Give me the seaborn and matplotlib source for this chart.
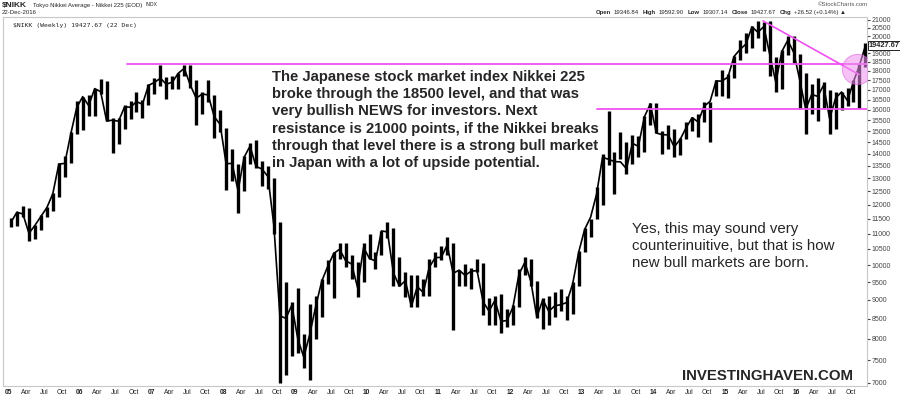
import numpy as np
import matplotlib
matplotlib.use("Agg")
import matplotlib.pyplot as plt
import seaborn as sns
import pandas as pd

# monthly Nikkei 225 ranges (2005 - Dec 2016)
years = list(range(2005, 2017))

high = [
    11520, 11740, 11975, 11900, 11300, 11620, 11935, 12450, 13617, 13930, 14970, 16445,  # 2005
    16650, 16750, 17060, 17563, 17470, 15600, 15600, 16250, 16420, 16900, 16480, 17300,  # 2006
    17600, 18300, 17660, 17750, 17880, 18300, 18297, 17500, 16900, 17490, 16750, 16000,  # 2007
    15160, 14200, 13600, 13900, 14450, 14600, 13700, 13500, 13000, 11400, 9500, 8950,    # 2008
    9330, 8110, 8900, 9100, 9600, 10170, 10400, 10700, 10700, 10300, 10100, 10700,       # 2009
    10980, 10400, 11100, 11400, 11200, 10250, 9800, 9700, 9700, 9600, 10200, 10400,      # 2010
    10600, 10890, 10700, 9850, 10020, 9900, 10200, 10050, 9050, 9100, 9150, 8750,        # 2011
    8850, 9870, 10255, 10190, 9520, 9050, 9100, 9220, 9290, 9100, 9500, 10430,           # 2012
    11200, 11500, 12650, 14000, 15942, 14100, 14950, 14500, 14820, 14800, 15700, 16320,  # 2013
    16320, 15000, 15300, 15100, 14700, 15400, 15650, 15800, 16380, 16400, 17520, 18030,  # 2014
    17850, 18830, 19780, 20200, 20600, 20952, 20850, 20946, 18800, 19200, 20012, 20000,  # 2015
    18950, 17900, 17290, 17600, 17400, 17000, 16900, 16900, 17100, 17500, 18400, 19592,  # 2016
]
low = [
    11238, 11260, 11562, 10770, 10825, 11130, 11560, 11790, 12300, 13070, 13630, 14880,
    15060, 15700, 15680, 16780, 15470, 14045, 14440, 15100, 15550, 15900, 15615, 16250,
    16800, 17200, 16530, 17030, 17030, 17700, 17100, 15262, 15800, 16400, 14670, 14980,
    12570, 12900, 11690, 12500, 13600, 13400, 12700, 12600, 11000, 6994, 7160, 7600,
    7660, 7330, 7055, 8000, 8550, 9440, 9050, 10200, 9950, 9600, 9076, 9500,
    10200, 9870, 10300, 10850, 9400, 9380, 9090, 8800, 8800, 9100, 9100, 9950,
    10150, 10300, 8227, 9400, 9400, 9300, 9800, 8600, 8350, 8350, 8135, 8300,
    8350, 8800, 9700, 9400, 8520, 8238, 8330, 8550, 8700, 8480, 8620, 9400,
    10400, 10900, 11500, 12000, 13550, 12415, 13800, 13190, 13600, 13850, 14100, 15300,
    14900, 13995, 14200, 13885, 13960, 14650, 15000, 14750, 15400, 14530, 16700, 16670,
    16590, 17600, 18600, 19000, 19300, 19900, 19115, 17714, 16901, 17050, 18900, 18410,
    16017, 14865, 15800, 15470, 16100, 14864, 15100, 16000, 16200, 16400, 16111, 18200,
]
close = [
    11388, 11740, 11668, 11009, 11277, 11584, 11899, 12413, 13574, 13606, 14872, 16111,
    16650, 16205, 17060, 16906, 15467, 15505, 15457, 16140, 16128, 16399, 16274, 17226,
    17383, 17604, 17288, 17400, 17875, 18138, 17248, 16569, 16786, 16737, 15680, 15308,
    13592, 13603, 12525, 13849, 14338, 13481, 13376, 13072, 11259, 8576, 8512, 8859,
    7994, 7568, 8109, 8828, 9522, 9958, 10356, 10492, 10133, 10034, 9345, 10546,
    10198, 10126, 11089, 11057, 9768, 9382, 9537, 8824, 9369, 9202, 9937, 10228,
    10237, 10624, 9755, 9849, 9693, 9816, 9833, 8955, 8700, 8988, 8434, 8455,
    8802, 9723, 10083, 9520, 8542, 9006, 8695, 8839, 8870, 8928, 9446, 10395,
    11138, 11559, 12397, 13860, 13774, 13677, 13668, 13388, 14455, 14327, 15662, 16291,
    14914, 14841, 14828, 14304, 14632, 15162, 15621, 15425, 16174, 16414, 17460, 17451,
    17674, 18798, 19207, 19520, 20563, 20236, 20585, 18890, 17388, 19083, 19747, 19034,
    17518, 16027, 16759, 16666, 17235, 15576, 16569, 16887, 16450, 17425, 18308, 19427.67,
]

resistance_hi = 18400
support_lo = 16050
trend_start = (2015.53, 20940)
trend_end = (2016.87, 17800)
circle_at = (2016.84, 18100)

y_ticks = list(range(7000, 21001, 500))
month_ticks = ["Apr", "Jul", "Oct"]
quote = [("Open", "19346.84"), ("High", "19592.90"), ("Low", "19307.14"),
         ("Close", "19427.67"), ("Chg", "+26.52 (+0.14%) \u25b2")]

df = pd.DataFrame({
    "t": [y + (m - 0.5) / 12 for y in years for m in range(1, 13)],
    "high": high, "low": low, "close": close,
})

sns.set_style("white")
plt.rcParams["font.family"] = ["Liberation Sans", "DejaVu Sans"]

fig = plt.figure(figsize=(9, 3.94), dpi=100)
ax = fig.add_axes([3 / 900, 8 / 394, 864 / 900, 369 / 394])
ax.set_yscale("log")

# price bars
ax.vlines(df["t"], df["low"], df["high"], color="black", lw=2.4)
sns.lineplot(data=df, x="t", y="close", ax=ax, color="black", lw=1.2)

# annotations in magenta
pink = "#f050f0"
ax.plot([2006.66, 2016.98], [resistance_hi] * 2, color=pink, lw=1.3)
ax.plot([2013.21, 2016.98], [support_lo] * 2, color=pink, lw=1.3)
ax.plot([trend_start[0], trend_end[0]], [trend_start[1], trend_end[1]], color=pink, lw=1.2)
ax.scatter([circle_at[0]], [circle_at[1]], s=470, color="#f090f0", alpha=0.55,
           edgecolor="#e060e0", lw=0.8, zorder=5)

ax.set_xlim(2004.93, 2016.98)
ax.set_ylim(6935, 21190)
ax.minorticks_off()

xt, xl = [], []
for y in years:
    xt.append(y)
    xl.append(f"{y % 100:02d}")
    for k, m in enumerate(month_ticks):
        xt.append(y + 0.25 * (k + 1))
        xl.append(m)
ax.set_xticks(xt, xl)
for lab in ax.get_xticklabels():
    if lab.get_text().isdigit():
        lab.set_fontweight("bold")
ax.tick_params(axis="x", labelsize=4.8, length=1.5, pad=0.5, colors="#222222")

# 19500 sits under the last-price box, so its label is left blank
ax.yaxis.tick_right()
ax.set_yticks(y_ticks, ["" if v == 19500 else str(v) for v in y_ticks])
ax.tick_params(axis="y", labelsize=5, length=2, pad=1.5, colors="#444444")
ax.set_xlabel("")
ax.set_ylabel("")
for s in ax.spines.values():
    s.set_color("#c8c8c8")
    s.set_linewidth(0.8)

# last price box
ax.annotate("19427.67", xy=(1.0, close[-1]), xycoords=("axes fraction", "data"),
            xytext=(1, 0), textcoords="offset points", va="center", ha="left",
            fontsize=5.3, fontweight="bold", zorder=10,
            bbox=dict(boxstyle="square,pad=0.12", fc="white", ec="black", lw=0.6))

ax.text(0.011, 0.985, "$NIKK (Weekly) 19427.67 (22 Dec)", transform=ax.transAxes,
        fontsize=4.6, va="top", ha="left", family="DejaVu Sans Mono", color="#222222")

ax.text(2008.68, 18050,
        "The Japanese stock market index Nikkei 225\n"
        "broke through the 18500 level, and that was\n"
        "very bullish NEWS for investors. Next\n"
        "resistance is 21000 points, if the Nikkei breaks\n"
        "through that level there is a strong bull market\n"
        "in Japan with a lot of upside potential.",
        fontsize=10.7, fontweight="bold", va="top", ha="left", linespacing=1.29)

ax.text(2013.7, 11400,
        "Yes, this may sound very\n"
        "counterinuitive, but that is how\n"
        "new bull markets are born.",
        fontsize=10.8, va="top", ha="left", linespacing=1.29)

ax.text(2016.785, 7150, "INVESTINGHAVEN.COM", fontsize=10.8, fontweight="bold",
        va="center", ha="right")

# chart header
fig.text(2 / 900, 1 - 5 / 394, "$NIKK", fontsize=6, fontweight="bold", va="center")
fig.text(33 / 900, 1 - 5 / 394, "Tokyo Nikkei Average - Nikkei 225 (EOD)", fontsize=4.3, va="center")
fig.text(145 / 900, 1 - 5 / 394, "INDX", fontsize=3.6, va="center")
fig.text(2 / 900, 1 - 12.5 / 394, "22-Dec-2016", fontsize=4.3, va="center")
fig.text(868 / 900, 1 - 4 / 394, "\u00a9StockCharts.com", fontsize=4.3, va="center", ha="right", color="#555555")

# quote line: lay pieces out one after another
renderer = fig.canvas.get_renderer()
px = 596
for name, val in quote:
    for txt, bold in ((name, True), (val, False)):
        t = fig.text(px / 900, 1 - 12.5 / 394, txt, fontsize=4.3, va="center",
                     fontweight="bold" if bold else "normal")
        px += t.get_window_extent(renderer).width + 2.5
    px += 1.5

fig.savefig("out.png", dpi=100)
